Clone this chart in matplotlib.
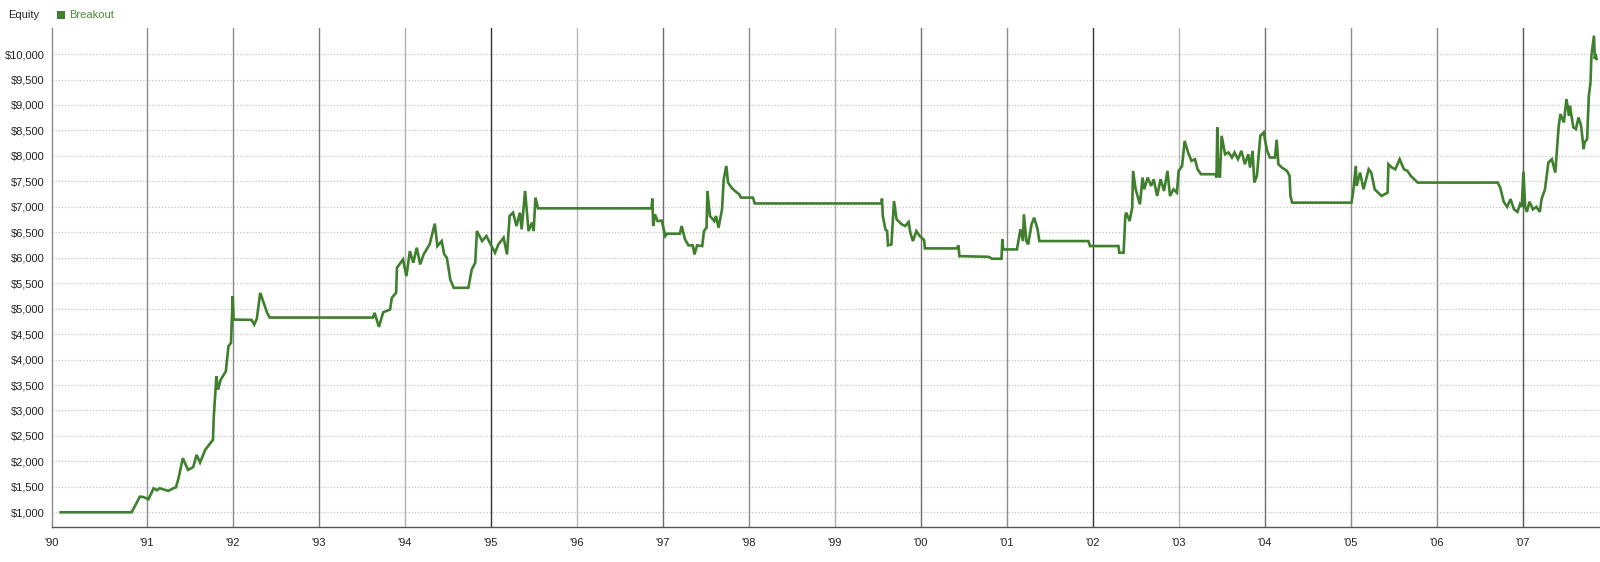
import matplotlib
matplotlib.use("Agg")
import matplotlib.pyplot as plt
from matplotlib.patches import Rectangle
from matplotlib.ticker import FuncFormatter

# equity curve (decimal year, dollars)
dates = [
    1990.00, 1990.825, 1990.92, 1990.96, 1991.02, 1991.08, 1991.12, 1991.15, 1991.25, 1991.31,
    1991.34, 1991.37, 1991.42, 1991.48, 1991.54, 1991.58, 1991.62, 1991.68, 1991.74, 1991.77,
    1991.78, 1991.81, 1991.83, 1991.86, 1991.92, 1991.95, 1991.98, 1992.00, 1992.01, 1992.22,
    1992.25, 1992.28, 1992.32, 1992.36, 1992.40, 1992.43, 1993.63, 1993.65, 1993.70, 1993.75,
    1993.83, 1993.85, 1993.90, 1993.91, 1993.98, 1994.02, 1994.06, 1994.10, 1994.14, 1994.18,
    1994.22, 1994.29, 1994.35, 1994.38, 1994.43, 1994.46, 1994.49, 1994.53, 1994.57, 1994.74,
    1994.78, 1994.82, 1994.84, 1994.90, 1994.95, 1995.01, 1995.05, 1995.09, 1995.15, 1995.19,
    1995.22, 1995.26, 1995.30, 1995.34, 1995.36, 1995.40, 1995.44, 1995.48, 1995.50, 1995.52,
    1995.55, 1996.87, 1996.88, 1996.89, 1996.91, 1996.94, 1996.99, 1997.03, 1997.05, 1997.20,
    1997.22, 1997.26, 1997.30, 1997.35, 1997.37, 1997.40, 1997.46, 1997.48, 1997.51, 1997.52,
    1997.55, 1997.60, 1997.62, 1997.65, 1997.69, 1997.71, 1997.74, 1997.76, 1997.80, 1997.84,
    1997.89, 1997.91, 1998.05, 1998.07, 1999.545, 1999.55, 1999.56, 1999.59, 1999.61, 1999.62,
    1999.66, 1999.69, 1999.72, 1999.78, 1999.82, 1999.86, 1999.88, 1999.91, 1999.95, 1999.99,
    2000.04, 2000.05, 2000.42, 2000.44, 2000.45, 2000.79, 2000.83, 2000.94, 2000.95, 2000.96,
    2001.12, 2001.13, 2001.16, 2001.19, 2001.20, 2001.23, 2001.25, 2001.29, 2001.32, 2001.36,
    2001.38, 2001.95, 2001.97, 2002.30, 2002.31, 2002.36, 2002.38, 2002.39, 2002.43, 2002.46,
    2002.47, 2002.50, 2002.55, 2002.58, 2002.60, 2002.64, 2002.68, 2002.71, 2002.75, 2002.79,
    2002.83, 2002.87, 2002.90, 2002.94, 2002.98, 2003.00, 2003.04, 2003.07, 2003.11, 2003.15,
    2003.19, 2003.22, 2003.26, 2003.43, 2003.44, 2003.45, 2003.46, 2003.48, 2003.50, 2003.54,
    2003.58, 2003.62, 2003.65, 2003.69, 2003.73, 2003.77, 2003.81, 2003.83, 2003.86, 2003.88,
    2003.91, 2003.95, 2003.99, 2004.01, 2004.03, 2004.06, 2004.12, 2004.14, 2004.16, 2004.20,
    2004.26, 2004.29, 2004.30, 2004.32, 2005.01, 2005.03, 2005.06, 2005.07, 2005.11, 2005.15,
    2005.21, 2005.24, 2005.28, 2005.32, 2005.36, 2005.43, 2005.44, 2005.48, 2005.52, 2005.57,
    2005.62, 2005.66, 2005.70, 2005.76, 2005.78, 2006.71, 2006.74, 2006.78, 2006.82, 2006.86,
    2006.90, 2006.94, 2006.97, 2006.99, 2007.01, 2007.03, 2007.05, 2007.08, 2007.12, 2007.16,
    2007.20, 2007.22, 2007.26, 2007.30, 2007.34, 2007.38, 2007.42, 2007.44, 2007.48, 2007.51,
    2007.54, 2007.55, 2007.59, 2007.62, 2007.65, 2007.68, 2007.71, 2007.72, 2007.75, 2007.77,
    2007.79, 2007.80, 2007.83, 2007.84, 2007.85, 2007.86,
]
equity = [
    1000, 1000, 1307, 1300, 1256, 1472, 1433, 1472, 1420, 1472,
    1490, 1669, 2063, 1833, 1886, 2128, 1977, 2226, 2358, 2423,
    2882, 3669, 3407, 3604, 3768, 4260, 4327, 5244, 4785, 4779,
    4687, 4800, 5311, 5114, 4917, 4825, 4825, 4917, 4642, 4929,
    4982, 5212, 5311, 5803, 5966, 5638, 6130, 5901, 6197, 5868,
    6065, 6262, 6669, 6229, 6327, 6065, 6000, 5573, 5409, 5409,
    5770, 5901, 6524, 6327, 6425, 6229, 6098, 6262, 6393, 6065,
    6819, 6886, 6622, 6886, 6557, 7311, 6524, 6689, 6524, 7181,
    6970, 6970, 7161, 6622, 6852, 6720, 6727, 6425, 6472, 6472,
    6622, 6360, 6242, 6242, 6065, 6242, 6229, 6524, 6590, 7311,
    6819, 6720, 6819, 6590, 6950, 7541, 7803, 7476, 7378, 7311,
    7246, 7181, 7181, 7066, 7066, 7161, 6819, 6557, 6524, 6242,
    6262, 7114, 6754, 6656, 6622, 6700, 6492, 6327, 6524, 6425,
    6347, 6183, 6183, 6242, 6031, 6018, 5980, 5980, 6360, 6163,
    6163, 6262, 6557, 6327, 6852, 6327, 6262, 6656, 6787, 6557,
    6327, 6327, 6229, 6229, 6098, 6098, 6819, 6886, 6720, 6984,
    7705, 7344, 7049, 7575, 7344, 7575, 7410, 7541, 7213, 7541,
    7311, 7705, 7213, 7344, 7279, 7705, 7803, 8295, 8067, 7902,
    7935, 7738, 7640, 7640, 7575, 8559, 7673, 7575, 8394, 8033,
    8067, 7968, 8067, 7935, 8099, 7837, 8033, 7771, 8099, 7476,
    7607, 8394, 8461, 8264, 8099, 7968, 7968, 8316, 7837, 7771,
    7705, 7607, 7213, 7082, 7082, 7300, 7803, 7410, 7673, 7344,
    7738, 7673, 7344, 7279, 7213, 7279, 7837, 7771, 7738, 7935,
    7738, 7705, 7607, 7508, 7476, 7476, 7378, 7100, 7000, 7150,
    6950, 6900, 7050, 7000, 7690, 7000, 6900, 7100, 6950, 7000,
    6900, 7148, 7344, 7870, 7935, 7673, 8591, 8821, 8657, 9116,
    8788, 8985, 8559, 8526, 8755, 8591, 8132, 8263, 8329, 9181,
    9444, 9969, 10362, 9903, 10001, 9903,
]

years = list(range(1991, 2008))
year_labels = ["'%02d" % (y % 100) for y in years]
# shades of the vertical year lines as they appear in the reference
year_line_colors = ["#8c8c8c", "#8c8c8c", "#7a7a7a", "#b0b0b0", "#333333", "#b8b8b8",
                    "#6e6e6e", "#8c8c8c", "#b0b0b0", "#6e6e6e", "#8c8c8c", "#333333",
                    "#b8b8b8", "#6e6e6e", "#8c8c8c", "#8c8c8c", "#555555"]
y_ticks = list(range(1000, 10001, 500))

LINE_GREEN = "#3f7f2e"
TEXT_FONT = ["Liberation Sans", "DejaVu Sans"]
plt.rcParams["font.family"] = TEXT_FONT

fig = plt.figure(figsize=(16, 5.62), dpi=100)
ax = fig.add_axes([51.7 / 1600, 1 - 527 / 562, 1 - 51.7 / 1600, (527 - 28) / 562])

x_left = 1989.895
ax.set_xlim(x_left, 2007.90)
ax.set_ylim(711, 10512)

# dotted horizontal grid
for v in y_ticks:
    ax.axhline(v, color="#c4c4c4", lw=0.9, ls=(0, (1, 1.5)), zorder=1)
# vertical year lines
for y, c in zip(years, year_line_colors):
    ax.axvline(y, color=c, lw=1.0, zorder=1)

ax.plot(dates, equity, color=LINE_GREEN, lw=1.9, zorder=3, solid_joinstyle="miter")

ax.set_yticks(y_ticks)
ax.yaxis.set_major_formatter(FuncFormatter(lambda v, p: "${:,.0f}".format(v)))
ax.set_xticks([x_left] + years)
ax.set_xticklabels(["'90"] + year_labels)
ax.tick_params(axis="both", length=0, labelsize=8, colors="#222222")
ax.tick_params(axis="x", pad=8)
ax.tick_params(axis="y", pad=5)

for s in ["top", "right"]:
    ax.spines[s].set_visible(False)
ax.spines["left"].set_color("#8c8c8c")
ax.spines["bottom"].set_color("#555555")
ax.spines["left"].set_linewidth(1.0)
ax.spines["bottom"].set_linewidth(1.0)

# legend row
fig.text(8 / 1600, 1 - 15 / 562, "Equity", fontsize=8, color="#222222", va="center")
fig.patches.append(Rectangle((57 / 1600, 1 - 19 / 562), 8 / 1600, 8 / 562,
                             transform=fig.transFigure, facecolor=LINE_GREEN,
                             edgecolor="none"))
fig.text(69 / 1600, 1 - 15 / 562, "Breakout", fontsize=8, color="#4e8a3c", va="center")

fig.savefig("out.png", dpi=100, facecolor="white")
